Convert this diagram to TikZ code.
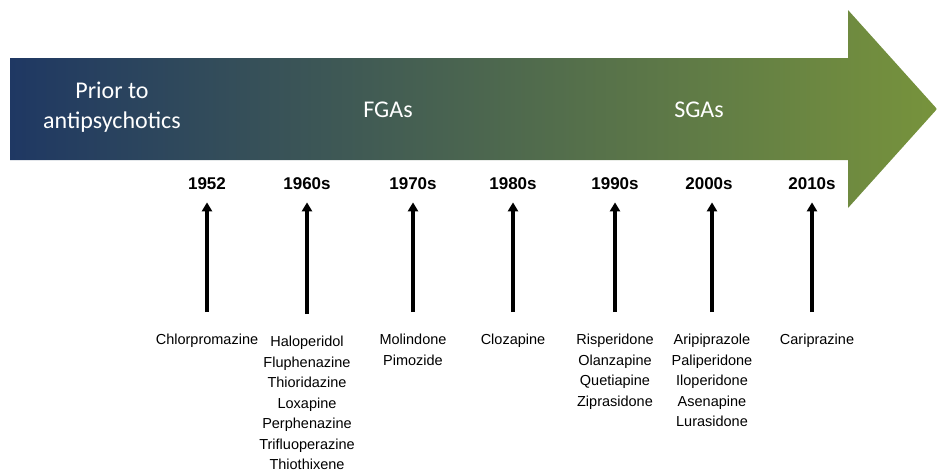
\documentclass[tikz,border=0pt]{standalone}
\usepackage{fontspec}
\setmainfont{Liberation Sans}
\newfontfamily\bandfont{Carlito}
\usetikzlibrary{arrows.meta}
\definecolor{bandleft}{RGB}{31,56,99}
\definecolor{bandright}{RGB}{119,147,60}
\tikzset{
  era/.style={font=\bandfont\fontsize{24}{30}\selectfont,text=white,align=center,inner sep=0pt},
  yr/.style={font=\bfseries\fontsize{17}{20}\selectfont,inner sep=0pt,anchor=base},
  drugs/.style={font=\fontsize{14.5}{20.5}\selectfont,align=center,inner sep=0pt,anchor=north},
  up/.style={-{Triangle[length=9pt,width=10pt]},line width=3.2pt,shorten <=22pt,shorten >=13pt},
}
\begin{document}
\begin{tikzpicture}[x=1pt,y=1pt]
  \useasboundingbox (0,0) rectangle (937,-474);
  % big timeline arrow
  \shade[left color=bandleft,right color=bandright]
    (10,-58) -- (848,-58) -- (848,-10) -- (937,-109) -- (848,-208) -- (848,-160) -- (10,-160) -- cycle;
  \node[era] (prior) at (112,-107) {Prior to\\antipsychotics};
  \node[era] (fga) at (388,-110) {FGAs};
  \node[era] (sga) at (699,-110) {SGAs};
  % decades
  \node[yr] (y1) at (207,-189) {1952};
  \node[yr] (y2) at (307,-189) {1960s};
  \node[yr] (y3) at (413,-189) {1970s};
  \node[yr] (y4) at (513,-189) {1980s};
  \node[yr] (y5) at (615,-189) {1990s};
  \node[yr] (y6) at (709,-189) {2000s};
  \node[yr] (y7) at (812,-189) {2010s};
  % drugs
  \node[drugs] (d1) at (207,-334) {Chlorpromazine};
  \node[drugs] (d2) at (307,-336) {Haloperidol\\Fluphenazine\\Thioridazine\\Loxapine\\Perphenazine\\Trifluoperazine\\Thiothixene};
  \node[drugs] (d3) at (413,-334) {Molindone\\Pimozide};
  \node[drugs] (d4) at (513,-334) {Clozapine};
  \node[drugs] (d5) at (615,-334) {Risperidone\\Olanzapine\\Quetiapine\\Ziprasidone};
  \node[drugs] (d6) at (712,-334) {Aripiprazole\\Paliperidone\\Iloperidone\\Asenapine\\Lurasidone};
  \node[drugs] (d7) at (817,-334) {Cariprazine};
  % pointers
  \draw[up] (d1.north) -- (d1.north |- y1.south);
  \draw[up] (d2.north) -- (d2.north |- y2.south);
  \draw[up] (d3.north) -- (d3.north |- y3.south);
  \draw[up] (d4.north) -- (d4.north |- y4.south);
  \draw[up] (d5.north) -- (d5.north |- y5.south);
  \draw[up] (d6.north) -- (d6.north |- y6.south);
  \draw[up] (y7.south |- d7.north) -- (y7.south);
\end{tikzpicture}
\end{document}
